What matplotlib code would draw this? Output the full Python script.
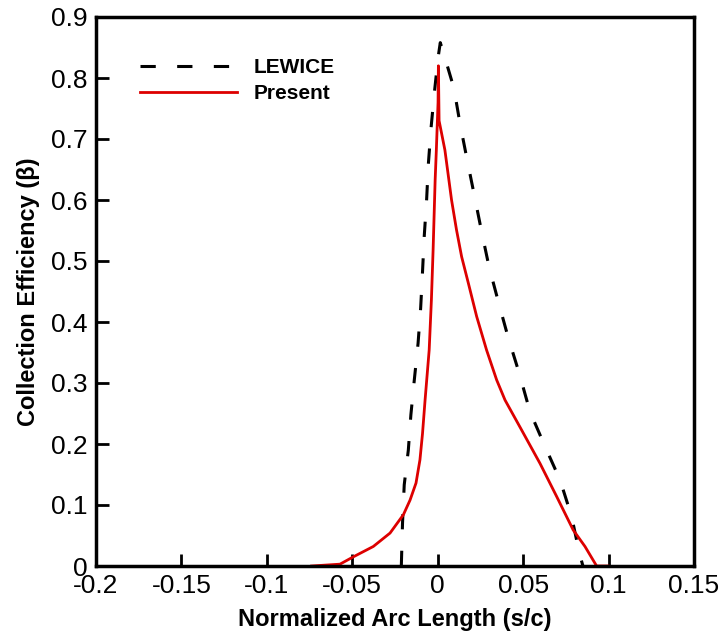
import matplotlib
matplotlib.use("Agg")
import matplotlib.pyplot as plt

plt.rcParams['font.family'] = ['Liberation Sans', 'DejaVu Sans']

# LEWICE (dashed)
lew_x = [-0.0213, -0.0206, -0.0196, -0.0172, -0.0157, -0.0137, -0.0115, -0.0100, -0.0089,
         -0.0079, -0.0065, -0.0055, -0.0040, -0.0020, 0.0003, 0.0015, 0.0032, 0.0095, 0.0130,
         0.0172, 0.0214, 0.0257, 0.0300, 0.0355, 0.0413, 0.0477, 0.0540, 0.0628, 0.0716,
         0.0784, 0.0829, 0.0850]
lew_y = [0.0, 0.070, 0.133, 0.190, 0.248, 0.305, 0.365, 0.422, 0.482,
         0.540, 0.600, 0.658, 0.715, 0.775, 0.835, 0.858, 0.843, 0.783, 0.726,
         0.666, 0.608, 0.548, 0.491, 0.433, 0.374, 0.316, 0.253, 0.196, 0.141,
         0.081, 0.021, 0.0]

# Present (solid red)
pre_x = [-0.0738, -0.0572, -0.0494, -0.0377, -0.0279, -0.0201, -0.0162, -0.0127, -0.0104,
         -0.0089, -0.0074, -0.0050, -0.0037, -0.0027, -0.0015, -0.0008, 0.0002, 0.0004,
         0.0008, 0.0042, 0.0081, 0.0110, 0.0140, 0.0179, 0.0228, 0.0286, 0.0345, 0.0394,
         0.0485, 0.0599, 0.0696, 0.0793, 0.0862, 0.0930, 0.0998]
pre_y = [0.0, 0.003, 0.015, 0.032, 0.054, 0.084, 0.108, 0.136, 0.174,
         0.217, 0.272, 0.354, 0.436, 0.518, 0.633, 0.682, 0.760, 0.820,
         0.730, 0.682, 0.600, 0.551, 0.507, 0.464, 0.409, 0.354, 0.305, 0.272,
         0.226, 0.168, 0.114, 0.059, 0.032, 0.0, 0.0]

xticks = [-0.2, -0.15, -0.1, -0.05, 0, 0.05, 0.1, 0.15]
xtick_labels = ['-0.2', '-0.15', '-0.1', '-0.05', '0', '0.05', '0.1', '0.15']
yticks = [0, 0.1, 0.2, 0.3, 0.4, 0.5, 0.6, 0.7, 0.8, 0.9]
ytick_labels = ['0', '0.1', '0.2', '0.3', '0.4', '0.5', '0.6', '0.7', '0.8', '0.9']

fig = plt.figure(figsize=(7.28, 6.39), dpi=100)
ax = fig.add_axes([96/728, 1-566/639, (694-96)/728, (566-17)/639])

ax.plot(lew_x, lew_y, color='black', lw=2.2, linestyle=(0, (5, 7)), label='LEWICE')
ax.plot(pre_x, pre_y, color='#dd0000', lw=2.0, label='Present')

ax.set_xlim(-0.2, 0.15)
ax.set_ylim(0, 0.9)
ax.set_xticks(xticks)
ax.set_xticklabels(xtick_labels)
ax.set_yticks(yticks)
ax.set_yticklabels(ytick_labels)
ax.tick_params(direction='in', length=9, width=2, labelsize=19, pad=6)
for s in ax.spines.values():
    s.set_linewidth(2.5)

ax.set_xlabel('Normalized Arc Length (s/c)', fontsize=17, fontweight='bold', labelpad=7)
ax.set_ylabel('Collection Efficiency (β)', fontsize=17, fontweight='bold', labelpad=8)

ax.legend(loc='upper left', bbox_to_anchor=(0.074, 0.925), frameon=False,
          prop={'size': 15, 'weight': 'bold'}, handlelength=4.66, handletextpad=0.77,
          labelspacing=0.35, borderpad=0, borderaxespad=0)

fig.savefig('out.png', dpi=100)
